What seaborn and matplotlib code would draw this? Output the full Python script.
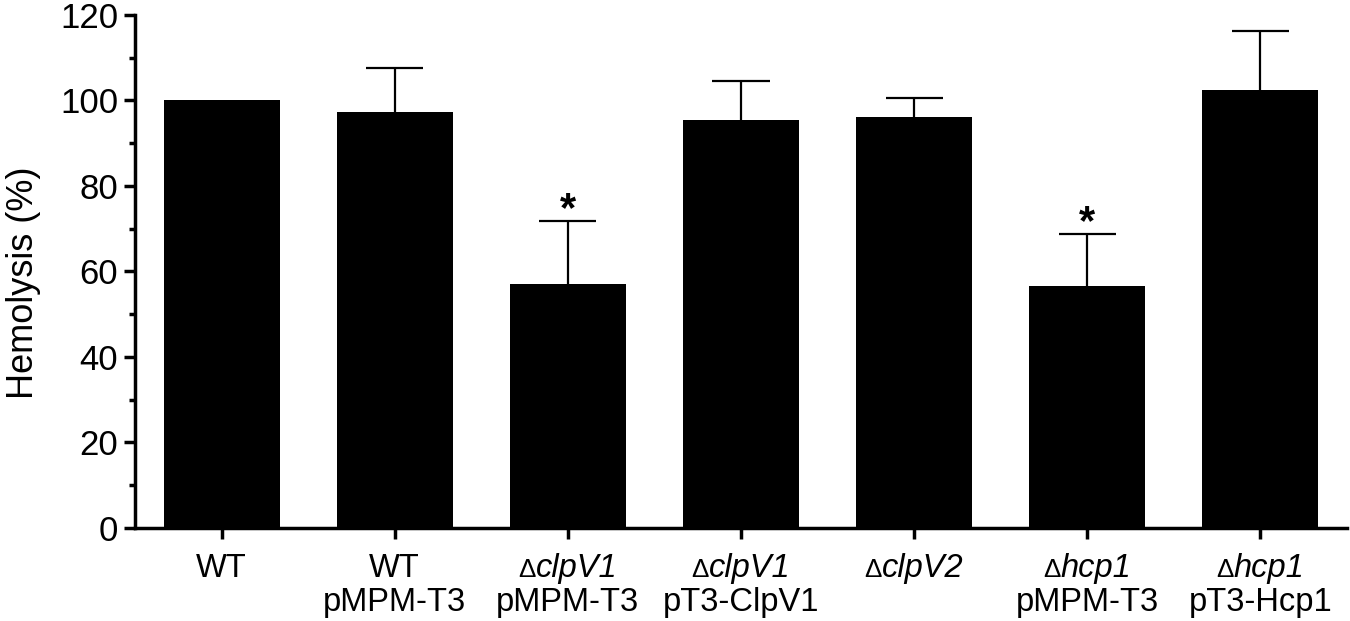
import matplotlib
matplotlib.use("Agg")
import matplotlib.pyplot as plt
import seaborn as sns
import pandas as pd
import numpy as np
from matplotlib.offsetbox import TextArea, HPacker, VPacker, AnnotationBbox
from matplotlib.ticker import MultipleLocator

# ---- data ----
strains = ["WT", "WT pMPM-T3", "ΔclpV1 pMPM-T3", "ΔclpV1 pT3-ClpV1",
           "ΔclpV2", "Δhcp1 pMPM-T3", "Δhcp1 pT3-Hcp1"]
hemolysis = [100.0, 97.3, 57.0, 95.4, 96.1, 56.7, 102.4]
error_upper = [0.0, 10.4, 14.9, 9.2, 4.4, 12.1, 13.9]
significant = [False, False, True, False, False, True, False]
label_prefix = ["WT", "WT", "", "", "", "", ""]
label_gene = ["", "", "clpV1", "clpV1", "clpV2", "hcp1", "hcp1"]
label_plasmid = ["", "pMPM-T3", "pMPM-T3", "pT3-ClpV1", "", "pMPM-T3", "pT3-Hcp1"]
y_label = "Hemolysis (%)"

sns.set_style("ticks")
plt.rcParams["font.family"] = ["Liberation Sans", "DejaVu Sans"]
for k in ["text.color", "axes.labelcolor", "xtick.color", "ytick.color", "axes.edgecolor"]:
    plt.rcParams[k] = "black"

df = pd.DataFrame({"strain": strains, "hemolysis": hemolysis})

fig = plt.figure(figsize=(13.5, 6.21), dpi=100)
ax = fig.add_axes([0.1, 0.1498, 0.8978, 0.8261])

sns.barplot(data=df, x="strain", y="hemolysis", order=strains, color="black",
            saturation=1, width=0.67, errorbar=None, linewidth=0, ax=ax)

positions = [p.get_x() + p.get_width() / 2 for p in ax.patches]
cap_half = 0.165

for pos, h, e in zip(positions, hemolysis, error_upper):
    if e > 0:
        ax.vlines(pos, h, h + e, color="black", linewidth=1.6, zorder=1)
        ax.hlines(h + e, pos - cap_half, pos + cap_half, color="black", linewidth=1.6, zorder=1)

for pos, h, e, sig in zip(positions, hemolysis, error_upper, significant):
    if sig:
        ax.annotate("*", xy=(pos, h + e), xytext=(0, 0), textcoords="offset points",
                    ha="center", va="baseline", fontsize=30, fontweight="bold")

ax.set_xlim(-0.5, len(strains) - 0.5)
ax.set_ylim(0, 120)
ax.yaxis.set_major_locator(MultipleLocator(20))
ax.yaxis.set_minor_locator(MultipleLocator(10))
ax.set_xticks(positions)
ax.set_xticklabels([""] * len(strains))
ax.set_xlabel("")
ax.set_ylabel(y_label, fontsize=26)
ax.yaxis.set_label_coords(-0.0776, 0.478)

for s in ["top", "right"]:
    ax.spines[s].set_visible(False)
for s in ["left", "bottom"]:
    ax.spines[s].set_linewidth(2.5)
    ax.spines[s].set_color("black")

ax.tick_params(axis="y", which="major", length=8, width=2.5, labelsize=25, pad=4, color="black")
ax.tick_params(axis="y", which="minor", length=4.5, width=2.5, color="black")
ax.tick_params(axis="x", which="major", length=8, width=2.5, color="black")

fs = 23.5
for pos, prefix, gene, plasmid in zip(positions, label_prefix, label_gene, label_plasmid):
    if gene:
        line1 = HPacker(children=[
            TextArea("Δ", textprops=dict(fontsize=fs * 0.8, color="black")),
            TextArea(gene, textprops=dict(fontsize=fs, style="italic", color="black"))],
            align="baseline", pad=0, sep=0)
    else:
        line1 = TextArea(prefix, textprops=dict(fontsize=fs, color="black"))
    children = [line1]
    if plasmid:
        children.append(TextArea(plasmid, textprops=dict(fontsize=fs, color="black")))
    box = VPacker(children=children, align="center", pad=0, sep=2)
    ab = AnnotationBbox(box, (pos, 0), xycoords=("data", "axes fraction"),
                        xybox=(0, -18), boxcoords="offset points",
                        box_alignment=(0.5, 1), frameon=False, pad=0)
    ax.add_artist(ab)

fig.savefig("out.png", dpi=100)
